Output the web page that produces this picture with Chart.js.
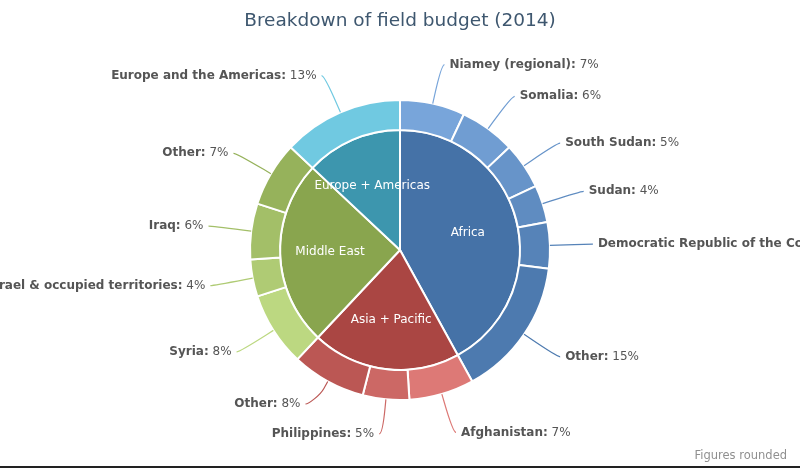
<!DOCTYPE html>
<html>
<head>
<meta charset="utf-8">
<title>Breakdown of field budget (2014)</title>
<script src="https://cdn.jsdelivr.net/npm/chart.js@4.4.1/dist/chart.umd.min.js"></script>
<style>
  html, body { margin: 0; padding: 0; background: #fff; }
  #wrap { width: 800px; height: 468px; }
</style>
</head>
<body>
<div id="wrap"><canvas id="budgetChart" width="800" height="468"></canvas></div>
<script>
  // inner ring: regions
  const regions = ['Africa', 'Asia + Pacific', 'Middle East', 'Europe + Americas'];
  const regionShares = [42, 20, 25, 13];
  const regionColors = ['#4572A7', '#AA4643', '#89A54E', '#3D96AE'];

  // outer ring: countries, in the same order as the regions
  const countries = [
    'Niamey (regional)', 'Somalia', 'South Sudan', 'Sudan', 'Democratic Republic of the Congo', 'Other',
    'Afghanistan', 'Philippines', 'Other',
    'Syria', 'Israel & occupied territories', 'Iraq', 'Other',
    'Europe and the Americas'
  ];
  const countryShares = [7, 6, 5, 4, 5, 15, 7, 5, 8, 8, 4, 6, 7, 13];
  const countryRegion = [0, 0, 0, 0, 0, 0, 1, 1, 1, 2, 2, 2, 2, 3];

  // same trick as the old highcharts donut: lighter shade for the first items
  function brighten(hex, amount) {
    var n = parseInt(hex.slice(1), 16);
    var add = Math.round(amount * 255);
    var r = Math.min(255, (n >> 16) + add);
    var g = Math.min(255, ((n >> 8) & 255) + add);
    var b = Math.min(255, (n & 255) + add);
    return 'rgb(' + r + ',' + g + ',' + b + ')';
  }

  var countryColors = [];
  for (var i = 0; i < countries.length; i++) {
    var reg = countryRegion[i];
    var members = countryRegion.filter(function (r) { return r === reg; }).length;
    var j = countryRegion.slice(0, i).filter(function (r) { return r === reg; }).length;
    countryColors.push(brighten(regionColors[reg], 0.2 - (j / members) / 5));
  }

  const FONT = '"DejaVu Sans", Verdana, sans-serif';

  const sliceLabels = {
    id: 'sliceLabels',
    afterDatasetsDraw(chart) {
      const ctx = chart.ctx;
      const outer = chart.getDatasetMeta(0).data;
      const inner = chart.getDatasetMeta(1).data;

      // outer labels with connectors
      var items = outer.map(function (arc, i) {
        var a = (arc.startAngle + arc.endAngle) / 2;
        var c = Math.cos(a), s = Math.sin(a);
        var r = arc.outerRadius;
        return {
          i: i, right: c >= 0,
          ex: arc.x + c * r, ey: arc.y + s * r,
          bx: arc.x + c * (r + 8), by: arc.y + s * (r + 8),
          cx: arc.x + c * (r + 16), cy: arc.y + s * (r + 16),
          lx: arc.x + c * (r + 40), ly: arc.y + s * (r + 40)
        };
      });

      // push labels apart on each side, from the bottom up
      [true, false].forEach(function (side) {
        var group = items.filter(function (p) { return p.right === side; })
          .sort(function (p, q) { return q.ly - p.ly; });
        var limit = 434;
        group.forEach(function (p) {
          p.ly = Math.min(p.ly, limit);
          limit = p.ly - 30;
        });
      });

      ctx.save();
      items.forEach(function (p) {
        var dir = p.right ? 1 : -1;
        ctx.strokeStyle = countryColors[p.i];
        ctx.lineWidth = 1.2;
        ctx.beginPath();
        ctx.moveTo(p.lx + dir * 3, p.ly);
        ctx.bezierCurveTo(p.lx, p.ly, p.cx, p.cy, p.bx, p.by);
        ctx.lineTo(p.ex, p.ey);
        ctx.stroke();

        var name = countries[p.i] + ':';
        var val = ' ' + countryShares[p.i] + '%';
        ctx.textBaseline = 'middle';
        ctx.textAlign = 'left';
        ctx.font = 'bold 12px ' + FONT;
        var w1 = ctx.measureText(name).width;
        ctx.font = '12px ' + FONT;
        var w2 = ctx.measureText(val).width;
        var x0 = p.right ? p.lx + 8 : p.lx - 8 - w1 - w2;
        ctx.fillStyle = '#555555';
        ctx.font = 'bold 12px ' + FONT;
        ctx.fillText(name, x0, p.ly);
        ctx.font = '12px ' + FONT;
        ctx.fillText(val, x0 + w1, p.ly);
      });

      // inner labels
      ctx.fillStyle = '#ffffff';
      ctx.font = '12px ' + FONT;
      ctx.textAlign = 'center';
      ctx.textBaseline = 'middle';
      inner.forEach(function (arc, i) {
        var a = (arc.startAngle + arc.endAngle) / 2;
        ctx.fillText(regions[i], arc.x + Math.cos(a) * 70, arc.y + Math.sin(a) * 70);
      });

      // credits + frame line
      ctx.fillStyle = '#909090';
      ctx.font = '11.5px ' + FONT;
      ctx.textAlign = 'right';
      ctx.textBaseline = 'alphabetic';
      ctx.fillText('Figures rounded', 787, 459);
      ctx.fillStyle = '#222222';
      ctx.fillRect(0, 466, chart.width, 2);
      ctx.restore();
    }
  };

  const ctx = document.getElementById('budgetChart').getContext('2d');
  const budgetChart = new Chart(ctx, {
    type: 'doughnut',
    data: {
      labels: countries,
      datasets: [
        {
          label: 'Countries',
          data: countryShares,
          backgroundColor: countryColors,
          borderColor: '#ffffff',
          borderWidth: 2,
          weight: 30
        },
        {
          label: 'Regions',
          data: regionShares,
          backgroundColor: regionColors,
          borderColor: '#ffffff',
          borderWidth: 2,
          weight: 120
        }
      ]
    },
    options: {
      responsive: false,
      animation: false,
      events: [],
      cutout: 0,
      hoverOffset: 0,
      layout: { padding: { top: 0, bottom: 67, left: 0, right: 0 } },
      plugins: {
        legend: { display: false },
        tooltip: { enabled: false },
        title: {
          display: true,
          text: 'Breakdown of field budget (2014)',
          color: '#3E576F',
          font: { family: FONT, size: 18.5, weight: 'normal' },
          padding: { top: 10, bottom: 66.8 }
        }
      }
    },
    plugins: [sliceLabels]
  });
</script>
</body>
</html>
